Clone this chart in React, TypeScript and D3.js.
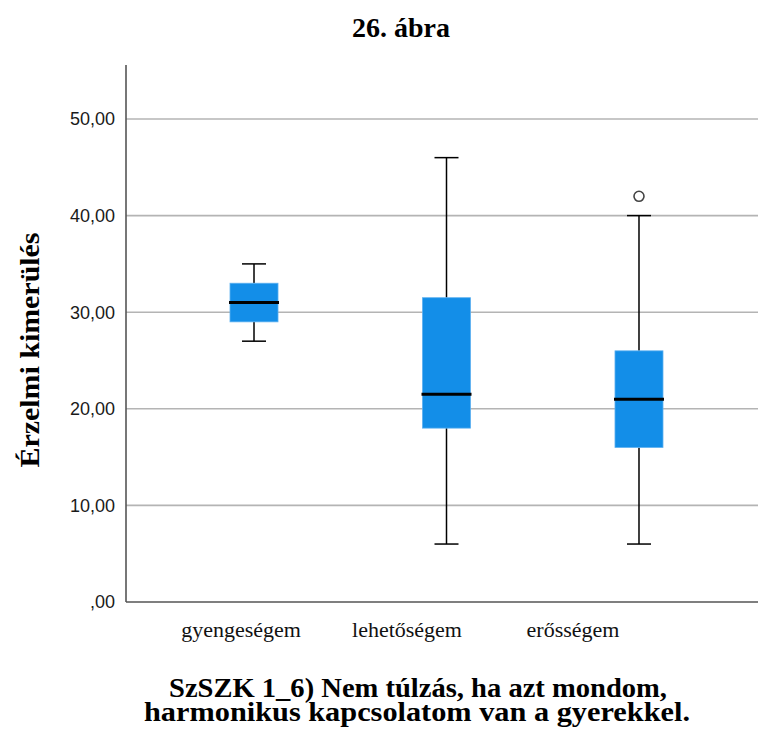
import React from "react";
import * as d3 from "d3";

const categories = ["gyengeségem", "lehetőségem", "erősségem"];
const whiskerLow = [27, 6, 6];
const q1 = [29, 18, 16];
const median = [31, 21.5, 21];
const q3 = [33, 31.5, 26];
const whiskerHigh = [35, 46, 40];
const outliers: [string, number][] = [["erősségem", 42]];
const yTicks = [0, 10, 20, 30, 40, 50];

const W = 758;
const H = 733;
const SERIF = "'Liberation Serif', 'Times New Roman', 'DejaVu Serif', serif";
const SANS = "'Liberation Sans', Arial, sans-serif";

export default function App() {
  const y = d3.scaleLinear().domain([0, 50]).range([602, 119]);
  const x = d3.scalePoint<string>().domain(categories).range([126, 767]).padding(0.665);
  const xl = d3.scalePoint<string>().domain(categories).range([241, 573]);
  const fmt = (v: number) => (v === 0 ? ",00" : d3.format(".2f")(v).replace(".", ","));
  const boxW = 48;
  const capW = 24;
  return (
    <svg width={W} height={H} style={{ position: "absolute", left: 0, top: 0 }}>
      <rect width={W} height={H} fill="#fff" />
      <text x={401} y={37} textAnchor="middle" style={{ fontFamily: SERIF }} fontWeight="bold" fontSize={28}>
        26. ábra
      </text>
      {yTicks.filter((t) => t > 0).map((t) => (
        <line key={t} x1={126} x2={W} y1={y(t)} y2={y(t)} stroke="#b4b4b4" strokeWidth={1.6} />
      ))}
      <line x1={126} x2={126} y1={65} y2={602} stroke="#555" strokeWidth={1.6} />
      <line x1={126} x2={W} y1={602} y2={602} stroke="#555" strokeWidth={1.6} />
      {yTicks.map((t) => (
        <text key={t} x={115} y={y(t)} dy="0.35em" textAnchor="end" style={{ fontFamily: SANS }} fontSize={18} fill="#1a1a1a">
          {fmt(t)}
        </text>
      ))}
      {categories.map((c, i) => {
        const cx = x(c)!;
        return (
          <g key={c}>
            <line x1={cx} x2={cx} y1={y(whiskerHigh[i])} y2={y(q3[i])} stroke="#000" strokeWidth={1.5} />
            <line x1={cx} x2={cx} y1={y(q1[i])} y2={y(whiskerLow[i])} stroke="#000" strokeWidth={1.5} />
            <line x1={cx - capW / 2} x2={cx + capW / 2} y1={y(whiskerHigh[i])} y2={y(whiskerHigh[i])} stroke="#000" strokeWidth={1.5} />
            <line x1={cx - capW / 2} x2={cx + capW / 2} y1={y(whiskerLow[i])} y2={y(whiskerLow[i])} stroke="#000" strokeWidth={1.5} />
            <rect x={cx - boxW / 2} y={y(q3[i])} width={boxW} height={y(q1[i]) - y(q3[i])} fill="#138ee8" stroke="#5cb0f0" strokeWidth={0.8} />
            <line x1={cx - boxW / 2 - 1} x2={cx + boxW / 2 + 1} y1={y(median[i])} y2={y(median[i])} stroke="#000" strokeWidth={3} />
            <text x={xl(c)} y={637} textAnchor="middle" style={{ fontFamily: SERIF }} fontSize={22} fill="#111">
              {c}
            </text>
          </g>
        );
      })}
      {outliers.map(([c, v], i) => (
        <circle key={i} cx={x(c)} cy={y(v)} r={5} fill="none" stroke="#444" strokeWidth={1.6} />
      ))}
      <text transform={`translate(39,350) rotate(-90)`} textAnchor="middle" style={{ fontFamily: SERIF }} fontWeight="bold" fontSize={28} textLength={235} lengthAdjust="spacingAndGlyphs">
        Érzelmi kimerülés
      </text>
      <text x={418} y={697} textAnchor="middle" style={{ fontFamily: SERIF }} fontWeight="bold" fontSize={28} textLength={498} lengthAdjust="spacingAndGlyphs">
        SzSZK 1_6) Nem túlzás, ha azt mondom,
      </text>
      <text x={417} y={721} textAnchor="middle" style={{ fontFamily: SERIF }} fontWeight="bold" fontSize={28} textLength={546} lengthAdjust="spacingAndGlyphs">
        harmonikus kapcsolatom van a gyerekkel.
      </text>
    </svg>
  );
}
